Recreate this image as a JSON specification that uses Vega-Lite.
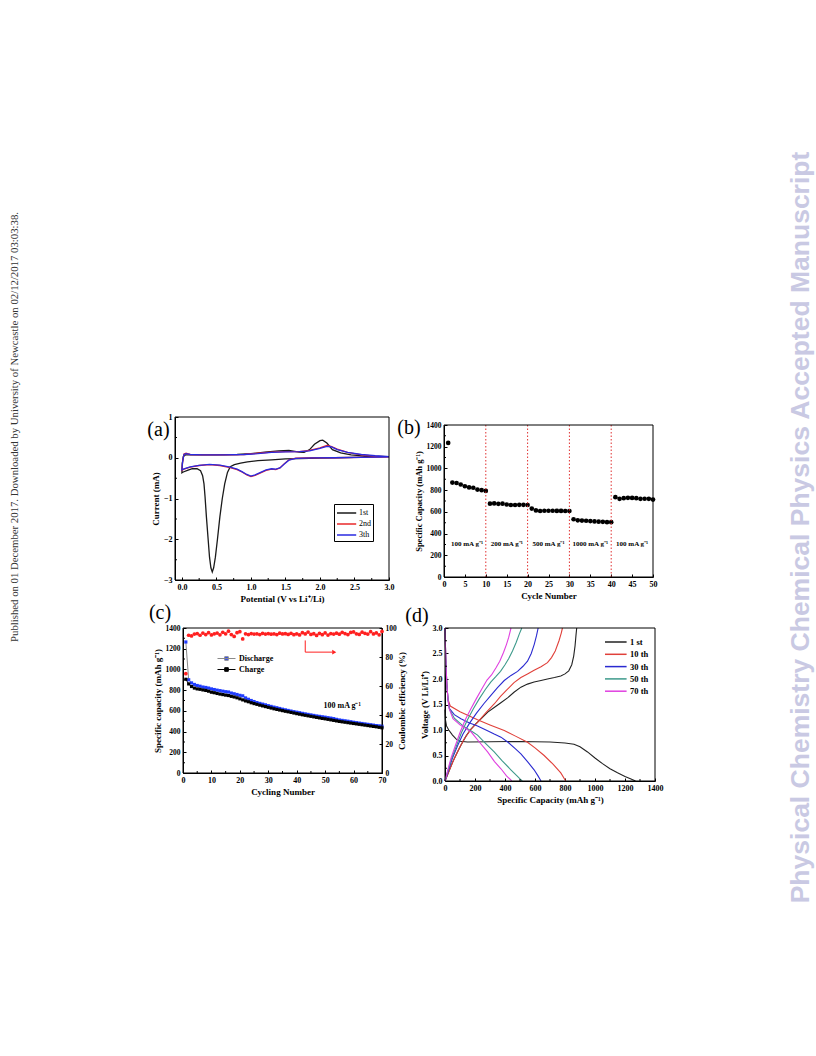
{
"$schema": "https://vega.github.io/schema/vega-lite/v6.json",
"padding": {"left": 5, "top": 151, "right": 0, "bottom": 0},
"config": {
 "view": {"stroke": null},
 "axis": {"labelFont": "Liberation Serif", "labelFontWeight": "bold", "labelFontSize": 8, "labelColor": "#000", "titleFont": "Liberation Serif", "titleFontWeight": "bold", "titleFontSize": 9, "titleColor": "#000", "domainColor": "#000", "tickColor": "#000", "tickSize": -3, "grid": false, "labelPadding": 6, "titlePadding": 3, "labelFlush": false, "labelOverlap": false, "tickCount": 20},
 "legend": {"labelLimit": 0}
},
"datasets": {
 "cv": [
  {"k":"1st","i":1,"v":3.0,"c":0.03},{"k":"1st","i":2,"v":2.8,"c":0.02},{"k":"1st","i":3,"v":2.5,"c":0.01},{"k":"1st","i":4,"v":2.2,"c":0.0},{"k":"1st","i":5,"v":2.0,"c":-0.01},{"k":"1st","i":6,"v":1.7,"c":-0.02},{"k":"1st","i":7,"v":1.5,"c":-0.03},{"k":"1st","i":8,"v":1.3,"c":-0.05},{"k":"1st","i":9,"v":1.1,"c":-0.07},{"k":"1st","i":10,"v":0.95,"c":-0.1},{"k":"1st","i":11,"v":0.85,"c":-0.13},{"k":"1st","i":12,"v":0.76,"c":-0.17},{"k":"1st","i":13,"v":0.7,"c":-0.22},{"k":"1st","i":14,"v":0.66,"c":-0.36},{"k":"1st","i":15,"v":0.62,"c":-0.64},{"k":"1st","i":16,"v":0.585,"c":-1.0},{"k":"1st","i":17,"v":0.55,"c":-1.45},{"k":"1st","i":18,"v":0.515,"c":-2.0},{"k":"1st","i":19,"v":0.485,"c":-2.44},{"k":"1st","i":20,"v":0.46,"c":-2.7},{"k":"1st","i":21,"v":0.44,"c":-2.8},{"k":"1st","i":22,"v":0.42,"c":-2.7},{"k":"1st","i":23,"v":0.4,"c":-2.44},{"k":"1st","i":24,"v":0.38,"c":-2.0},{"k":"1st","i":25,"v":0.355,"c":-1.45},{"k":"1st","i":26,"v":0.335,"c":-0.95},{"k":"1st","i":27,"v":0.32,"c":-0.64},{"k":"1st","i":28,"v":0.3,"c":-0.44},{"k":"1st","i":29,"v":0.27,"c":-0.32},{"k":"1st","i":30,"v":0.22,"c":-0.27},{"k":"1st","i":31,"v":0.15,"c":-0.27},{"k":"1st","i":32,"v":0.08,"c":-0.31},{"k":"1st","i":33,"v":0.02,"c":-0.35},{"k":"1st","i":34,"v":0.0,"c":-0.37},{"k":"1st","i":35,"v":0.005,"c":-0.15},{"k":"1st","i":36,"v":0.02,"c":0.03},{"k":"1st","i":37,"v":0.05,"c":0.07},{"k":"1st","i":38,"v":0.2,"c":0.07},{"k":"1st","i":39,"v":0.5,"c":0.07},{"k":"1st","i":40,"v":0.8,"c":0.08},{"k":"1st","i":41,"v":1.0,"c":0.1},{"k":"1st","i":42,"v":1.2,"c":0.14},{"k":"1st","i":43,"v":1.4,"c":0.17},{"k":"1st","i":44,"v":1.55,"c":0.18},{"k":"1st","i":45,"v":1.7,"c":0.14},{"k":"1st","i":46,"v":1.77,"c":0.13},{"k":"1st","i":47,"v":1.85,"c":0.2},{"k":"1st","i":48,"v":1.92,"c":0.33},{"k":"1st","i":49,"v":2.0,"c":0.42},{"k":"1st","i":50,"v":2.04,"c":0.43},{"k":"1st","i":51,"v":2.1,"c":0.36},{"k":"1st","i":52,"v":2.18,"c":0.2},{"k":"1st","i":53,"v":2.3,"c":0.12},{"k":"1st","i":54,"v":2.45,"c":0.07},{"k":"1st","i":55,"v":2.65,"c":0.04},{"k":"1st","i":56,"v":3.0,"c":0.03},
  {"k":"2nd","i":1,"v":3.0,"c":0.02},{"k":"2nd","i":2,"v":2.6,"c":0.01},{"k":"2nd","i":3,"v":2.2,"c":0.0},{"k":"2nd","i":4,"v":1.9,"c":0.0},{"k":"2nd","i":5,"v":1.65,"c":-0.01},{"k":"2nd","i":6,"v":1.55,"c":-0.05},{"k":"2nd","i":7,"v":1.48,"c":-0.15},{"k":"2nd","i":8,"v":1.42,"c":-0.25},{"k":"2nd","i":9,"v":1.36,"c":-0.29},{"k":"2nd","i":10,"v":1.3,"c":-0.28},{"k":"2nd","i":11,"v":1.22,"c":-0.31},{"k":"2nd","i":12,"v":1.14,"c":-0.37},{"k":"2nd","i":13,"v":1.06,"c":-0.43},{"k":"2nd","i":14,"v":1.0,"c":-0.46},{"k":"2nd","i":15,"v":0.94,"c":-0.42},{"k":"2nd","i":16,"v":0.87,"c":-0.35},{"k":"2nd","i":17,"v":0.8,"c":-0.29},{"k":"2nd","i":18,"v":0.7,"c":-0.24},{"k":"2nd","i":19,"v":0.55,"c":-0.19},{"k":"2nd","i":20,"v":0.4,"c":-0.17},{"k":"2nd","i":21,"v":0.25,"c":-0.19},{"k":"2nd","i":22,"v":0.12,"c":-0.23},{"k":"2nd","i":23,"v":0.03,"c":-0.28},{"k":"2nd","i":24,"v":0.0,"c":-0.31},{"k":"2nd","i":25,"v":0.01,"c":-0.1},{"k":"2nd","i":26,"v":0.03,"c":0.09},{"k":"2nd","i":27,"v":0.06,"c":0.11},{"k":"2nd","i":28,"v":0.12,"c":0.08},{"k":"2nd","i":29,"v":0.3,"c":0.07},{"k":"2nd","i":30,"v":0.6,"c":0.07},{"k":"2nd","i":31,"v":0.9,"c":0.08},{"k":"2nd","i":32,"v":1.1,"c":0.11},{"k":"2nd","i":33,"v":1.3,"c":0.14},{"k":"2nd","i":34,"v":1.5,"c":0.15},{"k":"2nd","i":35,"v":1.7,"c":0.15},{"k":"2nd","i":36,"v":1.85,"c":0.18},{"k":"2nd","i":37,"v":2.0,"c":0.24},{"k":"2nd","i":38,"v":2.1,"c":0.3},{"k":"2nd","i":39,"v":2.16,"c":0.28},{"k":"2nd","i":40,"v":2.25,"c":0.21},{"k":"2nd","i":41,"v":2.4,"c":0.13},{"k":"2nd","i":42,"v":2.6,"c":0.07},{"k":"2nd","i":43,"v":2.8,"c":0.04},{"k":"2nd","i":44,"v":3.0,"c":0.02},
  {"k":"3th","i":1,"v":3.0,"c":0.02},{"k":"3th","i":2,"v":2.6,"c":0.01},{"k":"3th","i":3,"v":2.2,"c":0.0},{"k":"3th","i":4,"v":1.9,"c":-0.005},{"k":"3th","i":5,"v":1.65,"c":-0.015},{"k":"3th","i":6,"v":1.55,"c":-0.06},{"k":"3th","i":7,"v":1.48,"c":-0.16},{"k":"3th","i":8,"v":1.42,"c":-0.25},{"k":"3th","i":9,"v":1.36,"c":-0.28},{"k":"3th","i":10,"v":1.3,"c":-0.27},{"k":"3th","i":11,"v":1.22,"c":-0.3},{"k":"3th","i":12,"v":1.14,"c":-0.36},{"k":"3th","i":13,"v":1.06,"c":-0.42},{"k":"3th","i":14,"v":1.0,"c":-0.45},{"k":"3th","i":15,"v":0.94,"c":-0.41},{"k":"3th","i":16,"v":0.87,"c":-0.34},{"k":"3th","i":17,"v":0.8,"c":-0.28},{"k":"3th","i":18,"v":0.7,"c":-0.23},{"k":"3th","i":19,"v":0.55,"c":-0.18},{"k":"3th","i":20,"v":0.4,"c":-0.165},{"k":"3th","i":21,"v":0.25,"c":-0.185},{"k":"3th","i":22,"v":0.12,"c":-0.225},{"k":"3th","i":23,"v":0.03,"c":-0.275},{"k":"3th","i":24,"v":0.0,"c":-0.3},{"k":"3th","i":25,"v":0.01,"c":-0.1},{"k":"3th","i":26,"v":0.03,"c":0.08},{"k":"3th","i":27,"v":0.06,"c":0.1},{"k":"3th","i":28,"v":0.12,"c":0.08},{"k":"3th","i":29,"v":0.3,"c":0.07},{"k":"3th","i":30,"v":0.6,"c":0.07},{"k":"3th","i":31,"v":0.9,"c":0.08},{"k":"3th","i":32,"v":1.1,"c":0.1},{"k":"3th","i":33,"v":1.3,"c":0.13},{"k":"3th","i":34,"v":1.5,"c":0.145},{"k":"3th","i":35,"v":1.7,"c":0.15},{"k":"3th","i":36,"v":1.85,"c":0.17},{"k":"3th","i":37,"v":2.0,"c":0.23},{"k":"3th","i":38,"v":2.1,"c":0.28},{"k":"3th","i":39,"v":2.16,"c":0.27},{"k":"3th","i":40,"v":2.25,"c":0.2},{"k":"3th","i":41,"v":2.4,"c":0.13},{"k":"3th","i":42,"v":2.6,"c":0.08},{"k":"3th","i":43,"v":2.8,"c":0.05},{"k":"3th","i":44,"v":3.0,"c":0.03}
 ],
 "rate": [
  {"n":1,"cap":1235},{"n":2,"cap":870},{"n":3,"cap":866},{"n":4,"cap":852},{"n":5,"cap":836},{"n":6,"cap":825},{"n":7,"cap":822},{"n":8,"cap":805},{"n":9,"cap":800},{"n":10,"cap":793},
  {"n":11,"cap":675},{"n":12,"cap":678},{"n":13,"cap":674},{"n":14,"cap":675},{"n":15,"cap":668},{"n":16,"cap":663},{"n":17,"cap":663},{"n":18,"cap":665},{"n":19,"cap":665},{"n":20,"cap":663},
  {"n":21,"cap":630},{"n":22,"cap":613},{"n":23,"cap":608},{"n":24,"cap":610},{"n":25,"cap":610},{"n":26,"cap":610},{"n":27,"cap":609},{"n":28,"cap":609},{"n":29,"cap":608},{"n":30,"cap":608},
  {"n":31,"cap":532},{"n":32,"cap":522},{"n":33,"cap":520},{"n":34,"cap":518},{"n":35,"cap":515},{"n":36,"cap":512},{"n":37,"cap":510},{"n":38,"cap":508},{"n":39,"cap":505},{"n":40,"cap":505},
  {"n":41,"cap":735},{"n":42,"cap":720},{"n":43,"cap":726},{"n":44,"cap":729},{"n":45,"cap":728},{"n":46,"cap":726},{"n":47,"cap":720},{"n":48,"cap":721},{"n":49,"cap":720},{"n":50,"cap":713}
 ],
 "rateLab": [
  {"x":5.5,"y":300,"t":"100 mA g⁻¹"},{"x":15,"y":300,"t":"200 mA g⁻¹"},{"x":25,"y":300,"t":"500 mA g⁻¹"},{"x":35,"y":300,"t":"1000 mA g⁻¹"},{"x":45,"y":300,"t":"100 mA g⁻¹"}
 ],
 "cap": [
  {"n":1,"s":"Discharge","cap":1265},{"n":2,"s":"Discharge","cap":900},{"n":3,"s":"Discharge","cap":870},{"n":4,"s":"Discharge","cap":855},{"n":5,"s":"Discharge","cap":845},{"n":6,"s":"Discharge","cap":838},{"n":7,"s":"Discharge","cap":830},{"n":8,"s":"Discharge","cap":826},{"n":9,"s":"Discharge","cap":820},{"n":10,"s":"Discharge","cap":812},
  {"n":11,"s":"Discharge","cap":806},{"n":12,"s":"Discharge","cap":800},{"n":13,"s":"Discharge","cap":795},{"n":14,"s":"Discharge","cap":790},{"n":15,"s":"Discharge","cap":785},{"n":16,"s":"Discharge","cap":782},{"n":17,"s":"Discharge","cap":772},{"n":18,"s":"Discharge","cap":765},{"n":19,"s":"Discharge","cap":758},{"n":20,"s":"Discharge","cap":750},
  {"n":21,"s":"Discharge","cap":745},{"n":22,"s":"Discharge","cap":725},{"n":23,"s":"Discharge","cap":712},{"n":24,"s":"Discharge","cap":700},{"n":25,"s":"Discharge","cap":690},{"n":26,"s":"Discharge","cap":680},{"n":27,"s":"Discharge","cap":672},{"n":28,"s":"Discharge","cap":665},{"n":29,"s":"Discharge","cap":658},{"n":30,"s":"Discharge","cap":650},
  {"n":31,"s":"Discharge","cap":643},{"n":32,"s":"Discharge","cap":636},{"n":33,"s":"Discharge","cap":630},{"n":34,"s":"Discharge","cap":623},{"n":35,"s":"Discharge","cap":616},{"n":36,"s":"Discharge","cap":610},{"n":37,"s":"Discharge","cap":604},{"n":38,"s":"Discharge","cap":598},{"n":39,"s":"Discharge","cap":592},{"n":40,"s":"Discharge","cap":587},
  {"n":41,"s":"Discharge","cap":582},{"n":42,"s":"Discharge","cap":576},{"n":43,"s":"Discharge","cap":571},{"n":44,"s":"Discharge","cap":566},{"n":45,"s":"Discharge","cap":561},{"n":46,"s":"Discharge","cap":556},{"n":47,"s":"Discharge","cap":551},{"n":48,"s":"Discharge","cap":547},{"n":49,"s":"Discharge","cap":543},{"n":50,"s":"Discharge","cap":539},
  {"n":51,"s":"Discharge","cap":534},{"n":52,"s":"Discharge","cap":530},{"n":53,"s":"Discharge","cap":525},{"n":54,"s":"Discharge","cap":518},{"n":55,"s":"Discharge","cap":512},{"n":56,"s":"Discharge","cap":508},{"n":57,"s":"Discharge","cap":504},{"n":58,"s":"Discharge","cap":500},{"n":59,"s":"Discharge","cap":495},{"n":60,"s":"Discharge","cap":490},
  {"n":61,"s":"Discharge","cap":486},{"n":62,"s":"Discharge","cap":482},{"n":63,"s":"Discharge","cap":478},{"n":64,"s":"Discharge","cap":474},{"n":65,"s":"Discharge","cap":470},{"n":66,"s":"Discharge","cap":466},{"n":67,"s":"Discharge","cap":462},{"n":68,"s":"Discharge","cap":458},{"n":69,"s":"Discharge","cap":455},{"n":70,"s":"Discharge","cap":452},
  {"n":1,"s":"Charge","cap":905},{"n":2,"s":"Charge","cap":860},{"n":3,"s":"Charge","cap":835},{"n":4,"s":"Charge","cap":820},{"n":5,"s":"Charge","cap":812},{"n":6,"s":"Charge","cap":808},{"n":7,"s":"Charge","cap":802},{"n":8,"s":"Charge","cap":797},{"n":9,"s":"Charge","cap":790},{"n":10,"s":"Charge","cap":780},
  {"n":11,"s":"Charge","cap":775},{"n":12,"s":"Charge","cap":768},{"n":13,"s":"Charge","cap":762},{"n":14,"s":"Charge","cap":757},{"n":15,"s":"Charge","cap":752},{"n":16,"s":"Charge","cap":748},{"n":17,"s":"Charge","cap":740},{"n":18,"s":"Charge","cap":734},{"n":19,"s":"Charge","cap":726},{"n":20,"s":"Charge","cap":716},
  {"n":21,"s":"Charge","cap":706},{"n":22,"s":"Charge","cap":696},{"n":23,"s":"Charge","cap":688},{"n":24,"s":"Charge","cap":678},{"n":25,"s":"Charge","cap":670},{"n":26,"s":"Charge","cap":663},{"n":27,"s":"Charge","cap":655},{"n":28,"s":"Charge","cap":648},{"n":29,"s":"Charge","cap":641},{"n":30,"s":"Charge","cap":634},
  {"n":31,"s":"Charge","cap":627},{"n":32,"s":"Charge","cap":620},{"n":33,"s":"Charge","cap":614},{"n":34,"s":"Charge","cap":608},{"n":35,"s":"Charge","cap":602},{"n":36,"s":"Charge","cap":596},{"n":37,"s":"Charge","cap":591},{"n":38,"s":"Charge","cap":585},{"n":39,"s":"Charge","cap":579},{"n":40,"s":"Charge","cap":573},
  {"n":41,"s":"Charge","cap":568},{"n":42,"s":"Charge","cap":562},{"n":43,"s":"Charge","cap":557},{"n":44,"s":"Charge","cap":552},{"n":45,"s":"Charge","cap":547},{"n":46,"s":"Charge","cap":542},{"n":47,"s":"Charge","cap":537},{"n":48,"s":"Charge","cap":532},{"n":49,"s":"Charge","cap":527},{"n":50,"s":"Charge","cap":523},
  {"n":51,"s":"Charge","cap":518},{"n":52,"s":"Charge","cap":513},{"n":53,"s":"Charge","cap":508},{"n":54,"s":"Charge","cap":503},{"n":55,"s":"Charge","cap":498},{"n":56,"s":"Charge","cap":494},{"n":57,"s":"Charge","cap":490},{"n":58,"s":"Charge","cap":486},{"n":59,"s":"Charge","cap":482},{"n":60,"s":"Charge","cap":478},
  {"n":61,"s":"Charge","cap":474},{"n":62,"s":"Charge","cap":470},{"n":63,"s":"Charge","cap":466},{"n":64,"s":"Charge","cap":462},{"n":65,"s":"Charge","cap":458},{"n":66,"s":"Charge","cap":454},{"n":67,"s":"Charge","cap":450},{"n":68,"s":"Charge","cap":446},{"n":69,"s":"Charge","cap":441},{"n":70,"s":"Charge","cap":436}
 ],
 "ce": [
  {"n":1,"e":68.5},{"n":2,"e":95},{"n":3,"e":94.5},{"n":4,"e":95.8},{"n":5,"e":96.2},{"n":6,"e":95},{"n":7,"e":96.5},{"n":8,"e":95.5},{"n":9,"e":96.8},{"n":10,"e":95.2},
  {"n":11,"e":96},{"n":12,"e":96.5},{"n":13,"e":95.3},{"n":14,"e":97},{"n":15,"e":96},{"n":16,"e":97.8},{"n":17,"e":95.5},{"n":18,"e":94.2},{"n":19,"e":96.8},{"n":20,"e":97.5},
  {"n":21,"e":92.5},{"n":22,"e":96},{"n":23,"e":95.5},{"n":24,"e":96.2},{"n":25,"e":95.8},{"n":26,"e":96},{"n":27,"e":95.5},{"n":28,"e":96.3},{"n":29,"e":95.8},{"n":30,"e":96.2},
  {"n":31,"e":95.7},{"n":32,"e":96},{"n":33,"e":95.5},{"n":34,"e":96.4},{"n":35,"e":95.9},{"n":36,"e":96.1},{"n":37,"e":95.6},{"n":38,"e":96.3},{"n":39,"e":95.4},{"n":40,"e":96},
  {"n":41,"e":95.2},{"n":42,"e":96.8},{"n":43,"e":95.9},{"n":44,"e":97.2},{"n":45,"e":95.6},{"n":46,"e":96.1},{"n":47,"e":94.9},{"n":48,"e":96.3},{"n":49,"e":95.4},{"n":50,"e":96.6},
  {"n":51,"e":95.1},{"n":52,"e":96.2},{"n":53,"e":95.8},{"n":54,"e":96.4},{"n":55,"e":95.7},{"n":56,"e":97},{"n":57,"e":96.2},{"n":58,"e":95.5},{"n":59,"e":96.9},{"n":60,"e":97.3},
  {"n":61,"e":96},{"n":62,"e":95.6},{"n":63,"e":97.1},{"n":64,"e":96.3},{"n":65,"e":95.8},{"n":66,"e":97.5},{"n":67,"e":95.9},{"n":68,"e":96.6},{"n":69,"e":95.3},{"n":70,"e":97.6}
 ],
 "arrow": [{"i":1,"n":43,"cap":1280},{"i":2,"n":43,"cap":1167},{"i":3,"n":52.5,"cap":1167}],
 "gcd": [
  {"k":"1 st","s":"d","i":1,"q":0,"v":1.4},{"k":"1 st","s":"d","i":2,"q":3,"v":1.2},{"k":"1 st","s":"d","i":3,"q":10,"v":1.08},{"k":"1 st","s":"d","i":4,"q":25,"v":1.0},{"k":"1 st","s":"d","i":5,"q":50,"v":0.9},{"k":"1 st","s":"d","i":6,"q":75,"v":0.82},{"k":"1 st","s":"d","i":7,"q":100,"v":0.78},{"k":"1 st","s":"d","i":8,"q":150,"v":0.765},{"k":"1 st","s":"d","i":9,"q":300,"v":0.77},{"k":"1 st","s":"d","i":10,"q":500,"v":0.775},{"k":"1 st","s":"d","i":11,"q":700,"v":0.765},{"k":"1 st","s":"d","i":12,"q":800,"v":0.745},{"k":"1 st","s":"d","i":13,"q":860,"v":0.72},{"k":"1 st","s":"d","i":14,"q":900,"v":0.67},{"k":"1 st","s":"d","i":15,"q":950,"v":0.57},{"k":"1 st","s":"d","i":16,"q":1000,"v":0.45},{"k":"1 st","s":"d","i":17,"q":1050,"v":0.34},{"k":"1 st","s":"d","i":18,"q":1100,"v":0.24},{"k":"1 st","s":"d","i":19,"q":1150,"v":0.16},{"k":"1 st","s":"d","i":20,"q":1200,"v":0.09},{"k":"1 st","s":"d","i":21,"q":1240,"v":0.04},{"k":"1 st","s":"d","i":22,"q":1270,"v":0.0},
  {"k":"1 st","s":"c","i":1,"q":0,"v":0},{"k":"1 st","s":"c","i":2,"q":25,"v":0.18},{"k":"1 st","s":"c","i":3,"q":51,"v":0.37},{"k":"1 st","s":"c","i":4,"q":80,"v":0.55},{"k":"1 st","s":"c","i":5,"q":106,"v":0.7},{"k":"1 st","s":"c","i":6,"q":140,"v":0.88},{"k":"1 st","s":"c","i":7,"q":173,"v":1.02},{"k":"1 st","s":"c","i":8,"q":205,"v":1.12},{"k":"1 st","s":"c","i":9,"q":240,"v":1.22},{"k":"1 st","s":"c","i":10,"q":285,"v":1.35},{"k":"1 st","s":"c","i":11,"q":328,"v":1.44},{"k":"1 st","s":"c","i":12,"q":370,"v":1.53},{"k":"1 st","s":"c","i":13,"q":417,"v":1.63},{"k":"1 st","s":"c","i":14,"q":460,"v":1.74},{"k":"1 st","s":"c","i":15,"q":506,"v":1.84},{"k":"1 st","s":"c","i":16,"q":550,"v":1.9},{"k":"1 st","s":"c","i":17,"q":594,"v":1.94},{"k":"1 st","s":"c","i":18,"q":640,"v":1.97},{"k":"1 st","s":"c","i":19,"q":683,"v":2.0},{"k":"1 st","s":"c","i":20,"q":730,"v":2.03},{"k":"1 st","s":"c","i":21,"q":772,"v":2.06},{"k":"1 st","s":"c","i":22,"q":800,"v":2.1},{"k":"1 st","s":"c","i":23,"q":825,"v":2.16},{"k":"1 st","s":"c","i":24,"q":845,"v":2.28},{"k":"1 st","s":"c","i":25,"q":858,"v":2.45},{"k":"1 st","s":"c","i":26,"q":867,"v":2.65},{"k":"1 st","s":"c","i":27,"q":873,"v":2.85},{"k":"1 st","s":"c","i":28,"q":878,"v":3.0},
  {"k":"10 th","s":"d","i":1,"q":0,"v":3.0},{"k":"10 th","s":"d","i":2,"q":5,"v":2.4},{"k":"10 th","s":"d","i":3,"q":12,"v":1.9},{"k":"10 th","s":"d","i":4,"q":20,"v":1.6},{"k":"10 th","s":"d","i":5,"q":35,"v":1.47},{"k":"10 th","s":"d","i":6,"q":100,"v":1.36},{"k":"10 th","s":"d","i":7,"q":217,"v":1.2},{"k":"10 th","s":"d","i":8,"q":300,"v":1.1},{"k":"10 th","s":"d","i":9,"q":395,"v":0.99},{"k":"10 th","s":"d","i":10,"q":470,"v":0.88},{"k":"10 th","s":"d","i":11,"q":550,"v":0.76},{"k":"10 th","s":"d","i":12,"q":600,"v":0.65},{"k":"10 th","s":"d","i":13,"q":661,"v":0.5},{"k":"10 th","s":"d","i":14,"q":720,"v":0.33},{"k":"10 th","s":"d","i":15,"q":772,"v":0.16},{"k":"10 th","s":"d","i":16,"q":805,"v":0.0},
  {"k":"10 th","s":"c","i":1,"q":0,"v":0},{"k":"10 th","s":"c","i":2,"q":30,"v":0.22},{"k":"10 th","s":"c","i":3,"q":62,"v":0.44},{"k":"10 th","s":"c","i":4,"q":95,"v":0.64},{"k":"10 th","s":"c","i":5,"q":129,"v":0.83},{"k":"10 th","s":"c","i":6,"q":170,"v":1.0},{"k":"10 th","s":"c","i":7,"q":217,"v":1.15},{"k":"10 th","s":"c","i":8,"q":270,"v":1.33},{"k":"10 th","s":"c","i":9,"q":328,"v":1.51},{"k":"10 th","s":"c","i":10,"q":370,"v":1.66},{"k":"10 th","s":"c","i":11,"q":417,"v":1.8},{"k":"10 th","s":"c","i":12,"q":460,"v":1.93},{"k":"10 th","s":"c","i":13,"q":506,"v":2.03},{"k":"10 th","s":"c","i":14,"q":550,"v":2.1},{"k":"10 th","s":"c","i":15,"q":594,"v":2.17},{"k":"10 th","s":"c","i":16,"q":640,"v":2.24},{"k":"10 th","s":"c","i":17,"q":683,"v":2.32},{"k":"10 th","s":"c","i":18,"q":710,"v":2.42},{"k":"10 th","s":"c","i":19,"q":735,"v":2.55},{"k":"10 th","s":"c","i":20,"q":760,"v":2.75},{"k":"10 th","s":"c","i":21,"q":775,"v":2.9},{"k":"10 th","s":"c","i":22,"q":783,"v":3.0},
  {"k":"30 th","s":"d","i":1,"q":0,"v":3.0},{"k":"30 th","s":"d","i":2,"q":5,"v":2.4},{"k":"30 th","s":"d","i":3,"q":12,"v":1.9},{"k":"30 th","s":"d","i":4,"q":20,"v":1.6},{"k":"30 th","s":"d","i":5,"q":30,"v":1.42},{"k":"30 th","s":"d","i":6,"q":62,"v":1.3},{"k":"30 th","s":"d","i":7,"q":106,"v":1.22},{"k":"30 th","s":"d","i":8,"q":160,"v":1.14},{"k":"30 th","s":"d","i":9,"q":217,"v":1.08},{"k":"30 th","s":"d","i":10,"q":280,"v":0.99},{"k":"30 th","s":"d","i":11,"q":328,"v":0.92},{"k":"30 th","s":"d","i":12,"q":373,"v":0.86},{"k":"30 th","s":"d","i":13,"q":420,"v":0.76},{"k":"30 th","s":"d","i":14,"q":470,"v":0.63},{"k":"30 th","s":"d","i":15,"q":506,"v":0.53},{"k":"30 th","s":"d","i":16,"q":550,"v":0.38},{"k":"30 th","s":"d","i":17,"q":594,"v":0.22},{"k":"30 th","s":"d","i":18,"q":620,"v":0.1},{"k":"30 th","s":"d","i":19,"q":640,"v":0.0},
  {"k":"30 th","s":"c","i":1,"q":0,"v":0},{"k":"30 th","s":"c","i":2,"q":25,"v":0.23},{"k":"30 th","s":"c","i":3,"q":50,"v":0.45},{"k":"30 th","s":"c","i":4,"q":85,"v":0.7},{"k":"30 th","s":"c","i":5,"q":120,"v":0.92},{"k":"30 th","s":"c","i":6,"q":165,"v":1.14},{"k":"30 th","s":"c","i":7,"q":210,"v":1.33},{"k":"30 th","s":"c","i":8,"q":260,"v":1.52},{"k":"30 th","s":"c","i":9,"q":306,"v":1.68},{"k":"30 th","s":"c","i":10,"q":350,"v":1.83},{"k":"30 th","s":"c","i":11,"q":395,"v":1.97},{"k":"30 th","s":"c","i":12,"q":440,"v":2.07},{"k":"30 th","s":"c","i":13,"q":484,"v":2.15},{"k":"30 th","s":"c","i":14,"q":520,"v":2.25},{"k":"30 th","s":"c","i":15,"q":550,"v":2.35},{"k":"30 th","s":"c","i":16,"q":575,"v":2.5},{"k":"30 th","s":"c","i":17,"q":595,"v":2.68},{"k":"30 th","s":"c","i":18,"q":610,"v":2.85},{"k":"30 th","s":"c","i":19,"q":621,"v":3.0},
  {"k":"50 th","s":"d","i":1,"q":0,"v":3.0},{"k":"50 th","s":"d","i":2,"q":5,"v":2.4},{"k":"50 th","s":"d","i":3,"q":12,"v":1.9},{"k":"50 th","s":"d","i":4,"q":20,"v":1.6},{"k":"50 th","s":"d","i":5,"q":30,"v":1.4},{"k":"50 th","s":"d","i":6,"q":62,"v":1.23},{"k":"50 th","s":"d","i":7,"q":120,"v":1.08},{"k":"50 th","s":"d","i":8,"q":180,"v":0.97},{"k":"50 th","s":"d","i":9,"q":217,"v":0.9},{"k":"50 th","s":"d","i":10,"q":270,"v":0.74},{"k":"50 th","s":"d","i":11,"q":328,"v":0.57},{"k":"50 th","s":"d","i":12,"q":380,"v":0.4},{"k":"50 th","s":"d","i":13,"q":439,"v":0.22},{"k":"50 th","s":"d","i":14,"q":480,"v":0.1},{"k":"50 th","s":"d","i":15,"q":500,"v":0.04},{"k":"50 th","s":"d","i":16,"q":515,"v":0.0},
  {"k":"50 th","s":"c","i":1,"q":0,"v":0},{"k":"50 th","s":"c","i":2,"q":22,"v":0.23},{"k":"50 th","s":"c","i":3,"q":45,"v":0.45},{"k":"50 th","s":"c","i":4,"q":78,"v":0.7},{"k":"50 th","s":"c","i":5,"q":110,"v":0.95},{"k":"50 th","s":"c","i":6,"q":150,"v":1.2},{"k":"50 th","s":"c","i":7,"q":190,"v":1.42},{"k":"50 th","s":"c","i":8,"q":230,"v":1.62},{"k":"50 th","s":"c","i":9,"q":270,"v":1.8},{"k":"50 th","s":"c","i":10,"q":305,"v":1.94},{"k":"50 th","s":"c","i":11,"q":340,"v":2.05},{"k":"50 th","s":"c","i":12,"q":370,"v":2.15},{"k":"50 th","s":"c","i":13,"q":400,"v":2.28},{"k":"50 th","s":"c","i":14,"q":425,"v":2.4},{"k":"50 th","s":"c","i":15,"q":450,"v":2.55},{"k":"50 th","s":"c","i":16,"q":475,"v":2.72},{"k":"50 th","s":"c","i":17,"q":495,"v":2.88},{"k":"50 th","s":"c","i":18,"q":512,"v":3.0},
  {"k":"70 th","s":"d","i":1,"q":0,"v":3.0},{"k":"70 th","s":"d","i":2,"q":5,"v":2.4},{"k":"70 th","s":"d","i":3,"q":12,"v":1.9},{"k":"70 th","s":"d","i":4,"q":20,"v":1.6},{"k":"70 th","s":"d","i":5,"q":28,"v":1.42},{"k":"70 th","s":"d","i":6,"q":53,"v":1.22},{"k":"70 th","s":"d","i":7,"q":100,"v":1.1},{"k":"70 th","s":"d","i":8,"q":175,"v":0.96},{"k":"70 th","s":"d","i":9,"q":230,"v":0.76},{"k":"70 th","s":"d","i":10,"q":284,"v":0.57},{"k":"70 th","s":"d","i":11,"q":330,"v":0.38},{"k":"70 th","s":"d","i":12,"q":373,"v":0.24},{"k":"70 th","s":"d","i":13,"q":410,"v":0.1},{"k":"70 th","s":"d","i":14,"q":439,"v":0.02},{"k":"70 th","s":"d","i":15,"q":445,"v":0.0},
  {"k":"70 th","s":"c","i":1,"q":0,"v":0},{"k":"70 th","s":"c","i":2,"q":20,"v":0.23},{"k":"70 th","s":"c","i":3,"q":40,"v":0.45},{"k":"70 th","s":"c","i":4,"q":70,"v":0.7},{"k":"70 th","s":"c","i":5,"q":100,"v":0.95},{"k":"70 th","s":"c","i":6,"q":135,"v":1.2},{"k":"70 th","s":"c","i":7,"q":170,"v":1.4},{"k":"70 th","s":"c","i":8,"q":210,"v":1.62},{"k":"70 th","s":"c","i":9,"q":250,"v":1.83},{"k":"70 th","s":"c","i":10,"q":280,"v":1.98},{"k":"70 th","s":"c","i":11,"q":310,"v":2.08},{"k":"70 th","s":"c","i":12,"q":340,"v":2.22},{"k":"70 th","s":"c","i":13,"q":365,"v":2.35},{"k":"70 th","s":"c","i":14,"q":390,"v":2.52},{"k":"70 th","s":"c","i":15,"q":410,"v":2.68},{"k":"70 th","s":"c","i":16,"q":425,"v":2.82},{"k":"70 th","s":"c","i":17,"q":440,"v":3.0}
 ]
},
"spacing": 94,
"resolve": {"scale": {"color": "independent", "fill": "independent", "stroke": "independent"}, "legend": {"color": "independent", "fill": "independent", "stroke": "independent"}},
"hconcat": [
 {"width": 20, "height": 20, "data": {"values": [{"t": "Published on 01 December 2017. Downloaded by University of Newcastle on 02/12/2017 03:03:38."}]}, "mark": {"type": "text", "angle": 270, "font": "Liberation Serif", "fontSize": 10.75, "color": "#333333"}, "encoding": {"text": {"field": "t"}}},
 {"vconcat": [
   {"hconcat": [
     {"width": 1, "height": 1, "data": {"values": [{"t": ""}]}, "mark": "text", "encoding": {"text": {"field": "t"}}},
     {"width": 214, "height": 163, "layer": [
       {"data": {"name": "cv"}, "mark": {"type": "line", "strokeWidth": 1.3},
        "encoding": {
          "x": {"field": "v", "type": "quantitative", "scale": {"domain": [-0.1, 3.0], "nice": false, "zero": false}, "axis": {"values": [0, 0.5, 1, 1.5, 2, 2.5, 3], "tickCount": 20, "format": ".1f", "labelOverlap": false, "title": "Potential (V vs  Li⁺/Li)"}},
          "y": {"field": "c", "type": "quantitative", "scale": {"domain": [-3, 1], "nice": false, "zero": false}, "axis": {"values": [-3, -2, -1, 0, 1], "tickCount": 20, "format": "d", "labelOverlap": false, "title": "Current (mA)"}},
          "color": {"field": "k", "type": "nominal", "scale": {"domain": ["1st", "2nd", "3th"], "range": ["#1a1a1a", "#e8282a", "#2a2ae0"]}, "legend": {"orient": "none", "legendX": 159, "legendY": 87, "title": null, "strokeColor": "#000", "padding": 2, "symbolType": "M-1,0H2.2", "symbolSize": 144, "symbolStrokeWidth": 1.5, "labelFont": "Liberation Serif", "labelFontSize": 8, "rowPadding": 0, "labelOffset": 9}},
          "order": {"field": "i", "type": "quantitative"}
        }},
       {"data": {"values": [{"c": -2.5}, {"c": -1.5}, {"c": -0.5}, {"c": 0.5}]}, "mark": {"type": "tick", "orient": "horizontal", "size": 2, "thickness": 1, "xOffset": 1, "color": "#000", "opacity": 1}, "encoding": {"y": {"field": "c", "type": "quantitative"}, "x": {"datum": -0.1}}},
       {"data": {"values": [{"v": 0.25}, {"v": 0.75}, {"v": 1.25}, {"v": 1.75}, {"v": 2.25}, {"v": 2.75}]}, "mark": {"type": "tick", "orient": "vertical", "size": 2, "thickness": 1, "yOffset": -1, "color": "#000", "opacity": 1}, "encoding": {"x": {"field": "v", "type": "quantitative"}, "y": {"datum": -3}}},
       {"data": {"values": [{}]}, "mark": {"type": "rect", "filled": false, "stroke": "#000", "strokeWidth": 1}, "encoding": {"x": {"datum": -0.1}, "x2": {"datum": 3.0}, "y": {"datum": -3}, "y2": {"datum": 1}}},
       {"data": {"values": [{"t": "(a)"}]}, "mark": {"type": "text", "font": "Liberation Serif", "fontSize": 20}, "encoding": {"x": {"datum": -0.34}, "y": {"datum": 0.68}, "text": {"field": "t"}}}
     ]},
     {"width": 209, "height": 160, "layer": [
       {"data": {"name": "rate"}, "mark": {"type": "circle", "size": 22, "color": "#000", "opacity": 1},
        "encoding": {
          "x": {"field": "n", "type": "quantitative", "scale": {"domain": [0, 50], "nice": false}, "axis": {"values": [0, 5, 10, 15, 20, 25, 30, 35, 40, 45, 50], "tickCount": 20, "format": "d", "labelOverlap": false, "title": "Cycle Number"}},
          "y": {"field": "cap", "type": "quantitative", "scale": {"domain": [0, 1400], "range": [160, 8], "nice": false}, "axis": {"values": [0, 200, 400, 600, 800, 1000, 1200, 1400], "tickCount": 20, "format": "d", "labelOverlap": false, "title": "Specific Capacity (mAh g⁻¹)", "labelFontSize": 7.5, "titleFontSize": 8.5}}
        }},
       {"data": {"values": [{"cap": 100}, {"cap": 300}, {"cap": 500}, {"cap": 700}, {"cap": 900}, {"cap": 1100}, {"cap": 1300}]}, "mark": {"type": "tick", "orient": "horizontal", "size": 2, "thickness": 1, "xOffset": 1, "color": "#000", "opacity": 1}, "encoding": {"y": {"field": "cap", "type": "quantitative"}, "x": {"datum": 0}}},
       {"data": {"values": [{"x": 10}, {"x": 20}, {"x": 30}, {"x": 40}]}, "mark": {"type": "rule", "color": "#e03030", "strokeDash": [1.5, 2], "strokeWidth": 1}, "encoding": {"x": {"field": "x", "type": "quantitative"}, "y": {"datum": 0}, "y2": {"datum": 1400}}},
       {"data": {"name": "rateLab"}, "mark": {"type": "text", "font": "Liberation Serif", "fontWeight": "bold", "fontSize": 7}, "encoding": {"x": {"field": "x", "type": "quantitative"}, "y": {"field": "y", "type": "quantitative"}, "text": {"field": "t"}}},
       {"data": {"values": [{}]}, "mark": {"type": "rect", "filled": false, "stroke": "#000", "strokeWidth": 1}, "encoding": {"x": {"datum": 0}, "x2": {"datum": 50}, "y": {"datum": 0}, "y2": {"datum": 1400}}},
       {"data": {"values": [{"t": "(b)"}]}, "mark": {"type": "text", "font": "Liberation Serif", "fontSize": 20}, "encoding": {"x": {"datum": -8.4}, "y": {"datum": 1372}, "text": {"field": "t"}}}
     ]}
   ], "spacing": 55, "bounds": "flush", "resolve": {"scale": {"color": "independent", "fill": "independent", "stroke": "independent"}, "legend": {"color": "independent", "fill": "independent", "stroke": "independent"}}},
   {"hconcat": [
     {"width": 1, "height": 1, "data": {"values": [{"t": ""}]}, "mark": "text", "encoding": {"text": {"field": "t"}}},
     {"width": 199, "height": 145, "layer": [
       {"layer": [
         {"data": {"name": "cap"}, "mark": {"type": "line", "strokeWidth": 1},
          "encoding": {
            "x": {"field": "n", "type": "quantitative", "scale": {"domain": [0, 70], "nice": false}, "axis": {"values": [0, 10, 20, 30, 40, 50, 60, 70], "tickCount": 20, "format": "d", "labelOverlap": false, "title": "Cycling Number"}},
            "y": {"field": "cap", "type": "quantitative", "scale": {"domain": [0, 1400], "nice": false}, "axis": {"values": [0, 200, 400, 600, 800, 1000, 1200, 1400], "tickCount": 20, "format": "d", "labelOverlap": false, "title": "Specific capacity (mAh g⁻¹)", "labelFontSize": 7.5}},
            "stroke": {"field": "s", "type": "nominal", "scale": {"domain": ["Discharge", "Charge"], "range": ["#8a8a8a", "#000000"]}, "legend": {"orient": "none", "legendX": 37, "legendY": 24, "title": null, "symbolType": "M-1.5,0H1.5M-0.3,-0.3H0.3V0.3H-0.3Z", "symbolSize": 144, "symbolStrokeWidth": 1, "labelFont": "Liberation Serif", "labelFontWeight": "bold", "labelFontSize": 8, "rowPadding": 0, "labelOffset": 6}}
          }},
         {"data": {"name": "cap"}, "mark": {"type": "square", "size": 10, "opacity": 1},
          "encoding": {
            "x": {"field": "n", "type": "quantitative"},
            "y": {"field": "cap", "type": "quantitative"},
            "fill": {"field": "s", "type": "nominal", "scale": {"domain": ["Discharge", "Charge"], "range": ["#1f3cff", "#000000"]}, "legend": {"orient": "none", "legendX": 37, "legendY": 24, "title": null, "symbolType": "M-1.5,0H1.5M-0.3,-0.3H0.3V0.3H-0.3Z", "symbolSize": 144, "symbolStrokeWidth": 1, "labelFont": "Liberation Serif", "labelFontWeight": "bold", "labelFontSize": 8, "rowPadding": 0, "labelOffset": 6}}
          }},
         {"data": {"values": [{"cap": 100}, {"cap": 300}, {"cap": 500}, {"cap": 700}, {"cap": 900}, {"cap": 1100}, {"cap": 1300}]}, "mark": {"type": "tick", "orient": "horizontal", "size": 2, "thickness": 1, "xOffset": 1, "color": "#000", "opacity": 1}, "encoding": {"y": {"field": "cap", "type": "quantitative"}, "x": {"datum": 0}}},
         {"data": {"values": [{"n": 5}, {"n": 15}, {"n": 25}, {"n": 35}, {"n": 45}, {"n": 55}, {"n": 65}]}, "mark": {"type": "tick", "orient": "vertical", "size": 2, "thickness": 1, "yOffset": -1, "color": "#000", "opacity": 1}, "encoding": {"x": {"field": "n", "type": "quantitative"}, "y": {"datum": 0}}},
         {"data": {"name": "arrow"}, "mark": {"type": "line", "color": "#ff2020", "strokeWidth": 1}, "encoding": {"x": {"field": "n", "type": "quantitative"}, "y": {"field": "cap", "type": "quantitative"}, "order": {"field": "i", "type": "quantitative"}}},
         {"data": {"values": [{"n": 53.2, "cap": 1167}]}, "mark": {"type": "point", "shape": "triangle-right", "filled": true, "color": "#ff2020", "size": 22, "opacity": 1}, "encoding": {"x": {"field": "n", "type": "quantitative"}, "y": {"field": "cap", "type": "quantitative"}}},
         {"data": {"values": [{"n": 56, "cap": 651, "t": "100 mA g⁻¹"}]}, "mark": {"type": "text", "font": "Liberation Serif", "fontWeight": "bold", "fontSize": 8}, "encoding": {"x": {"field": "n", "type": "quantitative"}, "y": {"field": "cap", "type": "quantitative"}, "text": {"field": "t"}}},
         {"data": {"values": [{}]}, "mark": {"type": "rect", "filled": false, "stroke": "#000", "strokeWidth": 1}, "encoding": {"x": {"datum": 0}, "x2": {"datum": 70}, "y": {"datum": 0}, "y2": {"datum": 1400}}},
         {"data": {"values": [{"t": "(c)"}]}, "mark": {"type": "text", "font": "Liberation Serif", "fontSize": 20}, "encoding": {"x": {"datum": -8.1}, "y": {"datum": 1544}, "text": {"field": "t"}}}
       ]},
       {"data": {"name": "ce"}, "mark": {"type": "circle", "size": 14, "color": "#ff2020", "opacity": 1},
        "encoding": {
          "x": {"field": "n", "type": "quantitative"},
          "y": {"field": "e", "type": "quantitative", "scale": {"domain": [0, 100], "nice": false}, "axis": {"orient": "right", "values": [0, 20, 40, 60, 80, 100], "tickCount": 20, "format": "d", "labelOverlap": false, "title": "Coulombic efficiency (%)", "titleAngle": 270, "titleBaseline": "top", "titlePadding": 1, "labelFontSize": 7.5}}
        }}
     ], "resolve": {"scale": {"y": "independent"}}},
     {"width": 210, "height": 153, "layer": [
       {"data": {"name": "gcd"}, "mark": {"type": "line", "strokeWidth": 1.1},
        "encoding": {
          "x": {"field": "q", "type": "quantitative", "scale": {"domain": [0, 1400], "nice": false}, "axis": {"values": [0, 200, 400, 600, 800, 1000, 1200, 1400], "tickCount": 20, "format": "d", "labelOverlap": false, "title": "Specific Capacity (mAh g⁻¹)"}},
          "y": {"field": "v", "type": "quantitative", "scale": {"domain": [0, 3], "nice": false}, "axis": {"values": [0, 0.5, 1, 1.5, 2, 2.5, 3], "tickCount": 20, "format": ".1f", "labelOverlap": false, "title": "Voltage (V Li/Li⁺)"}},
          "color": {"field": "k", "type": "nominal", "scale": {"domain": ["1 st", "10 th", "30 th", "50 th", "70 th"], "range": ["#222222", "#e0403a", "#2a2ad0", "#3d9a8b", "#e040e0"]}, "legend": {"orient": "none", "legendX": 159, "legendY": 7, "title": null, "symbolType": "M-1,0H2.6", "symbolSize": 144, "symbolStrokeWidth": 1.5, "labelFont": "Liberation Serif", "labelFontWeight": "bold", "labelFontSize": 8.5, "rowPadding": 0.3, "labelOffset": 12}},
          "detail": {"field": "s"},
          "order": {"field": "i", "type": "quantitative"}
        }},
       {"data": {"values": [{"v": 0.25}, {"v": 0.75}, {"v": 1.25}, {"v": 1.75}, {"v": 2.25}, {"v": 2.75}]}, "mark": {"type": "tick", "orient": "horizontal", "size": 2, "thickness": 1, "xOffset": 1, "color": "#000", "opacity": 1}, "encoding": {"y": {"field": "v", "type": "quantitative"}, "x": {"datum": 0}}},
       {"data": {"values": [{"q": 100}, {"q": 300}, {"q": 500}, {"q": 700}, {"q": 900}, {"q": 1100}, {"q": 1300}]}, "mark": {"type": "tick", "orient": "vertical", "size": 2, "thickness": 1, "yOffset": -1, "color": "#000", "opacity": 1}, "encoding": {"x": {"field": "q", "type": "quantitative"}, "y": {"datum": 0}}},
       {"data": {"values": [{}]}, "mark": {"type": "rect", "filled": false, "stroke": "#000", "strokeWidth": 1}, "encoding": {"x": {"datum": 0}, "x2": {"datum": 1400}, "y": {"datum": 0}, "y2": {"datum": 3}}},
       {"data": {"values": [{"t": "(d)"}]}, "mark": {"type": "text", "font": "Liberation Serif", "fontSize": 20}, "encoding": {"x": {"datum": -187}, "y": {"datum": 3.24}, "text": {"field": "t"}}}
     ]}
   ], "spacing": 63, "bounds": "flush", "resolve": {"scale": {"color": "independent", "fill": "independent", "stroke": "independent"}, "legend": {"color": "independent", "fill": "independent", "stroke": "independent"}}}
 ], "spacing": 0, "resolve": {"scale": {"color": "independent", "fill": "independent", "stroke": "independent"}, "legend": {"color": "independent", "fill": "independent", "stroke": "independent"}}},
 {"width": 88, "height": 221, "data": {"values": [{"t": "Physical Chemistry Chemical Physics Accepted Manuscript"}]}, "mark": {"type": "text", "angle": 270, "font": "Liberation Sans", "fontWeight": "bold", "fontSize": 26.5, "color": "#c9c9e3"}, "encoding": {"text": {"field": "t"}}}
]
}
